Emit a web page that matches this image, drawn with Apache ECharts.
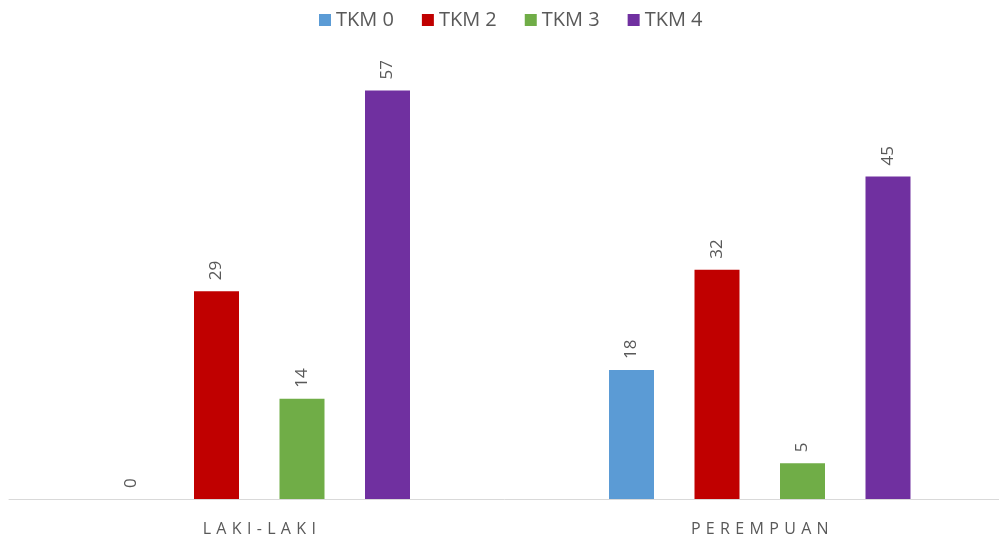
<!DOCTYPE html>
<html lang="en">
  <head>
    <meta charset="UTF-8">
    <title>TKM chart</title>
    <style>
      html, body { margin: 0; padding: 0; background: #fff; }
      #main { width: 999px; height: 539px; }
    </style>
  </head>
  <body>
    <div id="main"></div>
    <script src="https://cdn.jsdelivr.net/npm/echarts@6/dist/echarts.min.js"></script>
    <script type="text/javascript">
      // data
      var categories = ['LAKI-LAKI', 'PEREMPUAN'];
      var seriesNames = ['TKM 0', 'TKM 2', 'TKM 3', 'TKM 4'];
      var tkm0 = [0, 18];
      var tkm2 = [29, 32];
      var tkm3 = [14, 5];
      var tkm4 = [57, 45];
      var colors = ['#5b9bd5', '#c00000', '#70ad47', '#7030a0'];

      var myChart = echarts.init(document.getElementById('main'));
      var font = '"Open Sans", "Noto Sans", sans-serif';

      function makeSeries(name, values, i) {
        return {
          name: name,
          type: 'bar',
          data: values,
          barWidth: 45,
          barGap: '90%',
          itemStyle: { color: colors[i] },
          label: {
            show: true,
            position: 'top',
            rotate: 90,
            align: 'left',
            verticalAlign: 'middle',
            distance: 11,
            color: '#595959',
            fontSize: 17,
            fontFamily: font
          }
        };
      }

      var option = {
        animation: false,
        color: colors,
        legend: {
          top: 5,
          left: 314,
          itemWidth: 12,
          itemHeight: 12,
          itemGap: 28,
          icon: 'rect',
          textStyle: { color: '#595959', fontSize: 20, fontFamily: font }
        },
        grid: { left: 9, right: -11, top: 69, bottom: 40, outerBoundsMode: 'none' },
        xAxis: {
          type: 'category',
          data: categories,
          axisLine: { lineStyle: { color: '#d9d9d9', width: 1 } },
          axisTick: { show: false },
          axisLabel: {
            color: '#595959',
            fontSize: 16,
            fontFamily: font,
            margin: 22,
            formatter: function (v) { return v.split('').join('\u2004'); }
          }
        },
        yAxis: {
          type: 'value',
          min: 0,
          max: 60,
          show: false
        },
        series: [
          makeSeries(seriesNames[0], tkm0, 0),
          makeSeries(seriesNames[1], tkm2, 1),
          makeSeries(seriesNames[2], tkm3, 2),
          makeSeries(seriesNames[3], tkm4, 3)
        ]
      };

      myChart.setOption(option);
    </script>
  </body>
</html>
